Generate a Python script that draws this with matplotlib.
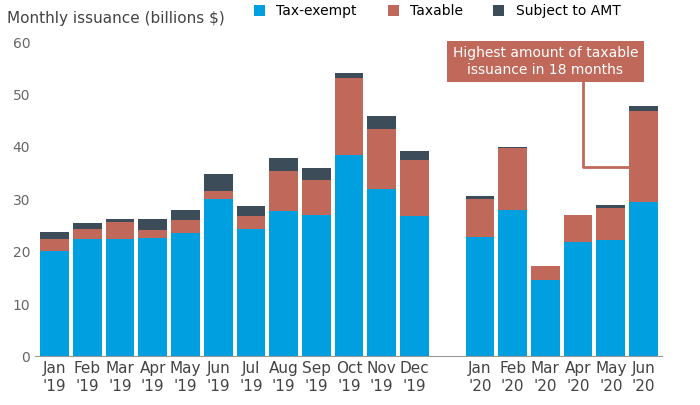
import matplotlib.pyplot as plt
import numpy as np

labels = ["Jan\n'19", "Feb\n'19", "Mar\n'19", "Apr\n'19", "May\n'19", "Jun\n'19", "Jul\n'19",
          "Aug\n'19", "Sep\n'19", "Oct\n'19", "Nov\n'19", "Dec\n'19",
          "Jan\n'20", "Feb\n'20", "Mar\n'20", "Apr\n'20", "May\n'20", "Jun\n'20"]
tax_exempt = [20.1, 22.4, 22.4, 22.6, 23.5, 30.0, 24.3, 27.7, 27.0, 38.4, 31.9, 26.8,
              22.8, 27.9, 14.5, 21.8, 22.2, 29.4]
taxable = [2.3, 1.9, 3.2, 1.5, 2.5, 1.5, 2.5, 7.7, 6.7, 14.8, 11.5, 10.7,
           7.2, 11.9, 2.7, 5.2, 6.1, 17.4]
amt = [1.3, 1.1, 0.6, 2.1, 1.9, 3.3, 1.9, 2.5, 2.2, 0.9, 2.5, 1.7,
       0.6, 0.2, 0.0, 0.0, 0.6, 1.0]

x = np.array(list(range(12)) + list(range(13, 19)))
te = np.array(tax_exempt)
tx = np.array(taxable)

fig = plt.figure(figsize=(7, 4.05), dpi=100)
ax = fig.add_axes([0.05, 0.12, 0.895, 0.776])
w = 0.88
ax.bar(x, te, w, color='#009FDF', label='Tax-exempt')
ax.bar(x, tx, w, bottom=te, color='#C0695B', label='Taxable')
ax.bar(x, amt, w, bottom=te + tx, color='#3D4C59', label='Subject to AMT')

ax.set_ylim(0, 60)
ax.set_xlim(-0.6, 18.55)
ax.set_yticks(range(0, 61, 10))
ax.set_xticks(x)
ax.set_xticklabels(labels, fontsize=11, color='#444444')
ax.tick_params(axis='y', labelsize=10, colors='#666666', length=0)
ax.tick_params(axis='x', length=0)
for s in ['top', 'right', 'left']:
    ax.spines[s].set_visible(False)
ax.spines['bottom'].set_color('#999999')

fig.text(0.01, 0.955, 'Monthly issuance (billions $)', fontsize=11, color='#444444', va='center')
ax.legend(loc='upper left', bbox_to_anchor=(0.33, 1.16), ncol=3, frameon=False,
          fontsize=10, handlelength=0.8, handleheight=0.8, columnspacing=2.2)

ax.annotate('Highest amount of taxable\nissuance in 18 months', xy=(15.0, 56.3),
            ha='center', va='center', fontsize=10, color='white',
            bbox=dict(boxstyle='square,pad=0.4', fc='#C0695B', ec='none'))
ax.plot([16.15, 16.15, 17.55], [52.6, 36.1, 36.1], color='#C0695B', lw=2)

fig.savefig('out.png', dpi=100)
